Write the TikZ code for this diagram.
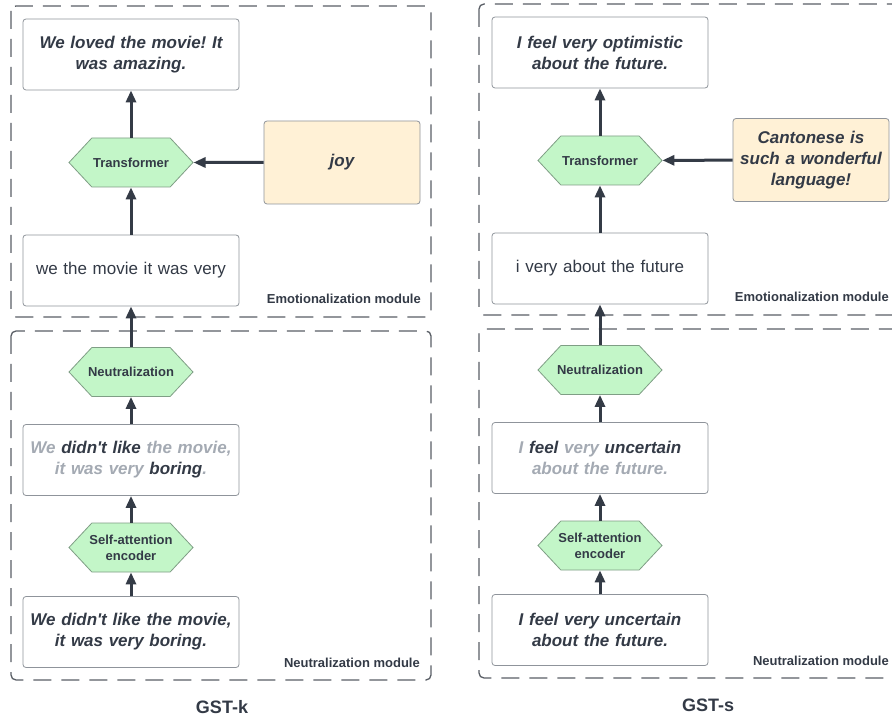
\documentclass[tikz,border=0pt]{standalone}
\usepackage{fontspec}
\setmainfont{Liberation Sans}
\usetikzlibrary{shapes.symbols,arrows.meta}
\definecolor{txtdark}{HTML}{333A46}
\definecolor{txtgrey}{HTML}{A4AAB3}
\definecolor{hexfill}{HTML}{C3F6C8}
\definecolor{hexline}{HTML}{7F9E85}
\definecolor{boxline}{HTML}{8F949B}
\definecolor{emofill}{HTML}{FFF1D6}
\definecolor{dashline}{HTML}{5A5F66}
\definecolor{arrowcol}{HTML}{343B46}
\tikzset{
  sentbox/.style={draw=boxline, line width=0.8pt, rounded corners=3pt, fill=white,
    minimum width=216pt, minimum height=71pt, text width=210pt, align=center,
    font=\fontsize{17}{21}\selectfont\bfseries\itshape, text=txtdark, inner sep=0pt},
  plainbox/.style={sentbox, font=\fontsize{17}{21}\selectfont},
  emobox/.style={sentbox, fill=emofill, minimum width=156pt, text width=152pt, minimum height=83pt},
  hexnode/.style={signal, signal to=east and west, signal pointer angle=94,
    draw=hexline, line width=0.8pt, fill=hexfill, minimum width=124pt, minimum height=49pt,
    inner sep=0pt, align=center, font=\fontsize{13}{16}\selectfont\bfseries, text=txtdark},
  modframe/.style={draw=dashline, line width=1.3pt, dash pattern=on 18pt off 10pt, rounded corners=5pt},
  modlabel/.style={anchor=base east, font=\fontsize{13}{15}\selectfont\bfseries, text=txtdark, inner sep=0pt},
  titlelabel/.style={font=\fontsize{18}{20}\selectfont\bfseries, text=txtdark},
  flow/.style={draw=arrowcol, line width=3pt, -{Triangle[length=12pt,width=10pt]}},
}
\newcommand{\gr}[1]{\textcolor{txtgrey}{#1}}
\newcommand{\apos}{\textquotesingle}
\newcommand{\zw}[1]{\makebox[0pt]{#1}}
\frenchspacing
\begin{document}
\begin{tikzpicture}[x=1pt,y=-1pt]
\useasboundingbox (0,0) rectangle (892,719);
\clip (0,0) rectangle (892,719);
\fill[white] (0,0) rectangle (892,719);

% ---------- left: GST-k ----------
\draw[modframe] (11,6) rectangle (431,317);
\draw[modframe] (11,331) rectangle (431,680);

\node[sentbox] (kout) at (131,54.5) {We loved the movie! It\\was amazing.};
\node[hexnode] (ktr) at (131,162.5) {\zw{Transformer}};
\node[emobox] (kjoy) at (342,162.5) {joy};
\node[plainbox] (kneu) at (131,270.5) {we the movie it was very};
\node[modlabel] (kemolab) at (421,304) {Emotionalization module};

\node[hexnode] (kneutr) at (131,372) {\zw{Neutralization}};
\node[sentbox] (kmask) at (131,460) {\gr{We} didn\apos t like \gr{the movie,}\\\gr{it was very} boring\gr{.}};
\node[hexnode] (kenc) at (131,547.5) {\zw{Self-attention}\\\zw{encoder}};
\node[sentbox] (kin) at (131,632) {We didn\apos t like the movie,\\it was very boring.};
\node[modlabel] (kneulab) at (420,667) {Neutralization module};
\node[titlelabel] (ktitle) at (222,707) {GST-k};

\draw[flow] (kin) -- (kenc);
\draw[flow] (kenc) -- (kmask);
\draw[flow] (kmask) -- (kneutr);
\draw[flow] (kneutr) -- (kneu);
\draw[flow] (kneu) -- (ktr);
\draw[flow] (ktr) -- (kout);
\draw[flow] (kjoy) -- (ktr);

% ---------- right: GST-s ----------
\draw[modframe] (479,4) rectangle (905,315);
\draw[modframe] (479,329) rectangle (905,678);

\node[sentbox] (sout) at (600,52.5) {I feel very optimistic\\about the future.};
\node[hexnode] (str) at (600,160.5) {\zw{Transformer}};
\node[emobox] (sref) at (811,160) {Cantonese is\\such a wonderful\\language!};
\node[plainbox] (sneu) at (600,268.5) {i very about the future};
\node[modlabel] (semolab) at (889,302) {Emotionalization module};

\node[hexnode] (sneutr) at (600,370) {\zw{Neutralization}};
\node[sentbox] (smask) at (600,458) {\gr{I} feel \gr{very} uncertain\\\gr{about the future.}};
\node[hexnode] (senc) at (600,545.5) {\zw{Self-attention}\\\zw{encoder}};
\node[sentbox] (sin) at (600,630) {I feel very uncertain\\about the future.};
\node[modlabel] (sneulab) at (889,665) {Neutralization module};
\node[titlelabel] (stitle) at (708,705) {GST-s};

\draw[flow] (sin) -- (senc);
\draw[flow] (senc) -- (smask);
\draw[flow] (smask) -- (sneutr);
\draw[flow] (sneutr) -- (sneu);
\draw[flow] (sneu) -- (str);
\draw[flow] (str) -- (sout);
\draw[flow] (sref) -- (str);
\end{tikzpicture}
\end{document}
